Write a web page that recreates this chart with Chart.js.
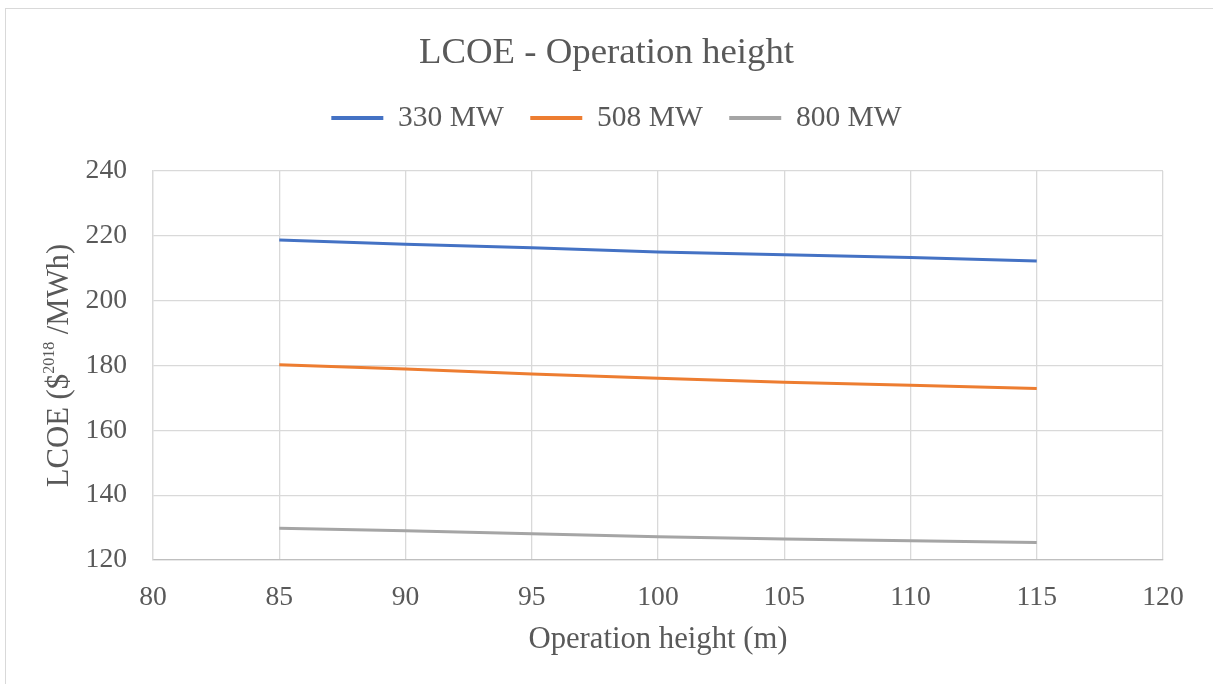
<!DOCTYPE html>
<html>
<head>
<meta charset="utf-8">
<title>LCOE - Operation height</title>
<script src="https://cdn.jsdelivr.net/npm/chart.js@4"></script>
<style>
  html, body { margin: 0; padding: 0; background: #fff; }
  #wrap { position: relative; width: 1213px; height: 684px; overflow: hidden; }
  #frame { position: absolute; left: 5px; top: 8px; width: 1230px; height: 700px; border: 1.5px solid #d9d9d9; }
  canvas { position: absolute; left: 0; top: 0; }
</style>
</head>
<body>
<div id="wrap">
  <div id="frame"></div>
  <canvas id="myChart" width="1213" height="684"></canvas>
</div>
<script>
// operation height (m) and LCOE per plant size
const heights = [85, 90, 95, 100, 105, 110, 115];
const lcoe330 = [218.7, 217.4, 216.3, 215.0, 214.2, 213.3, 212.2];
const lcoe508 = [180.2, 178.9, 177.4, 176.1, 174.8, 173.9, 172.9];
const lcoe800 = [129.8, 129.0, 128.1, 127.2, 126.5, 125.9, 125.4];

const seriesNames = ['330 MW', '508 MW', '800 MW'];
const seriesColors = ['#4472C4', '#ED7D31', '#A5A5A5'];

const xTickValues = [80, 85, 90, 95, 100, 105, 110, 115, 120];
const yTickValues = [120, 140, 160, 180, 200, 220, 240];

// y axis title, the year is set as a superscript
const yTitleParts = [
    { text: 'LCOE ($', size: 30.7, rise: 0 },
    { text: '2018', size: 16, rise: 14 },
    { text: ' /MWh)', size: 30.7, rise: 0 }
];

const textColor = '#595959';
const gridColor = '#d9d9d9';
const serif = "'Liberation Serif', 'Times New Roman', serif";

const toPoints = values => values.map((v, i) => ({ x: heights[i], y: v }));

// legend: extra room under the row, and nudge it right a little
const legendTweak = {
    id: 'legendTweak',
    beforeLayout(chart) {
        const legend = chart.legend;
        if (legend && !legend._gapAdded) {
            const fit = legend.fit;
            legend.fit = function () {
                fit.call(this);
                this.height += 28.25;
            };
            legend._gapAdded = true;
        }
    },
    afterLayout(chart) {
        chart.legend.left += 10;
        chart.legend.right += 10;
    }
};

const yTitle = {
    id: 'yTitle',
    afterDraw(chart) {
        const c = chart.ctx;
        const area = chart.chartArea;
        c.save();
        let total = 0;
        yTitleParts.forEach(p => {
            c.font = p.size + 'px ' + serif;
            p.w = c.measureText(p.text).width;
            total += p.w;
        });
        c.translate(68, (area.top + area.bottom) / 2);
        c.rotate(-Math.PI / 2);
        c.fillStyle = textColor;
        c.textBaseline = 'alphabetic';
        c.textAlign = 'left';
        let x = -total / 2;
        yTitleParts.forEach(p => {
            c.font = p.size + 'px ' + serif;
            c.fillText(p.text, x, -p.rise);
            x += p.w;
        });
        c.restore();
    }
};

const ctx = document.getElementById('myChart').getContext('2d');

new Chart(ctx, {
    type: 'line',
    data: {
        datasets: [lcoe330, lcoe508, lcoe800].map((values, i) => ({
            label: seriesNames[i],
            data: toPoints(values),
            borderColor: seriesColors[i],
            backgroundColor: seriesColors[i],
            borderWidth: 3,
            pointRadius: 0,
            tension: 0,
            fill: false
        }))
    },
    options: {
        responsive: false,
        animation: false,
        devicePixelRatio: 1,
        layout: { padding: 0 },
        plugins: {
            title: {
                display: true,
                text: 'LCOE - Operation height',
                color: textColor,
                font: { family: serif, size: 36.8, weight: 'normal', lineHeight: 1.0 },
                padding: { top: 34.8, bottom: 5.15 }
            },
            legend: {
                display: true,
                position: 'top',
                labels: {
                    color: textColor,
                    font: { family: serif, size: 29.5 },
                    boxWidth: 52,
                    boxHeight: 4,
                    padding: 26.5,
                    generateLabels: chart => chart.data.datasets.map((ds, i) => ({
                        text: ds.label,
                        fillStyle: ds.borderColor,
                        strokeStyle: ds.borderColor,
                        lineWidth: 0,
                        fontColor: textColor,
                        hidden: false,
                        datasetIndex: i
                    }))
                }
            },
            tooltip: { enabled: false }
        },
        scales: {
            x: {
                type: 'linear',
                min: 80,
                max: 120,
                afterBuildTicks: scale => { scale.ticks = xTickValues.map(v => ({ value: v })); },
                afterFit: scale => { scale.height = 124; scale.paddingRight = 50; },
                grid: { color: gridColor, lineWidth: 1.3, drawTicks: false },
                border: { color: '#bfbfbf', width: 1.3 },
                ticks: {
                    color: textColor,
                    padding: 21,
                    font: { family: serif, size: 27.6 },
                    maxRotation: 0
                },
                title: {
                    display: true,
                    text: 'Operation height (m)',
                    color: textColor,
                    font: { family: serif, size: 30.7 },
                    padding: { top: 0, bottom: 25.9 }
                }
            },
            y: {
                min: 120,
                max: 240,
                afterBuildTicks: scale => { scale.ticks = yTickValues.map(v => ({ value: v })); },
                afterFit: scale => { scale.width = 153; },
                grid: { color: gridColor, lineWidth: 1.3, drawTicks: false },
                border: { color: gridColor, width: 1.3 },
                ticks: {
                    color: textColor,
                    padding: 26,
                    font: { family: serif, size: 27.6 }
                },
                title: { display: false }
            }
        }
    },
    plugins: [legendTweak, yTitle]
});
</script>
</body>
</html>
